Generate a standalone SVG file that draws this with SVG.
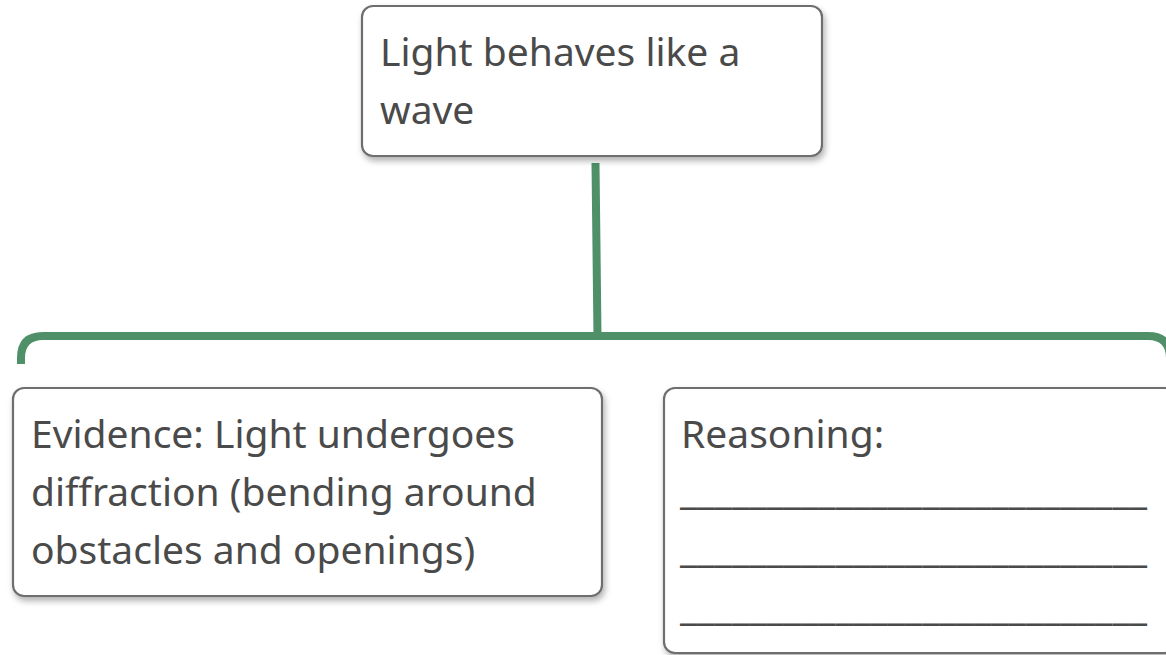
<svg xmlns="http://www.w3.org/2000/svg" width="1166" height="655" viewBox="0 0 1166 655">
<defs>
<filter id="sh" x="-10%" y="-10%" width="120%" height="130%">
<feDropShadow dx="2" dy="4" stdDeviation="3" flood-color="#000" flood-opacity="0.3"/>
</filter>
</defs>
<style>
.box{fill:#fff;stroke:#6e6e6e;stroke-width:2.2;filter:url(#sh)}
.t{font-family:"Noto Sans","Open Sans","DejaVu Sans",sans-serif;font-size:39px;fill:#4a4a4a}
.conn{fill:none;stroke:#4f9068;stroke-width:8}
</style>
<rect width="1166" height="655" fill="#fff"/>
<g id="connectors">
<path class="conn" d="M595.5,163 L597.5,336"/>
<path class="conn" d="M21,364 V358 Q21,336 43,336 H1148 Q1170,336 1170,358 V364"/>
</g>
<g id="node-top">
<rect class="box" x="362" y="6" width="460" height="150" rx="11"/>
<text class="t" x="380" y="66">Light behaves like a</text>
<text class="t" x="380" y="124">wave</text>
</g>
<g id="node-evidence">
<rect class="box" x="13" y="388" width="589" height="208" rx="11"/>
<text class="t" x="31" y="448">Evidence: Light undergoes</text>
<text class="t" x="31" y="506">diffraction (bending around</text>
<text class="t" x="31" y="564">obstacles and openings)</text>
</g>
<g id="node-reasoning">
<rect class="box" x="664" y="388" width="512" height="265" rx="11"/>
<text class="t" x="681" y="448">Reasoning:</text>
<text class="t" x="680" y="504" textLength="467" lengthAdjust="spacingAndGlyphs">___________________________</text>
<text class="t" x="680" y="562" textLength="467" lengthAdjust="spacingAndGlyphs">___________________________</text>
<text class="t" x="680" y="620" textLength="467" lengthAdjust="spacingAndGlyphs">___________________________</text>
</g>
</svg>
